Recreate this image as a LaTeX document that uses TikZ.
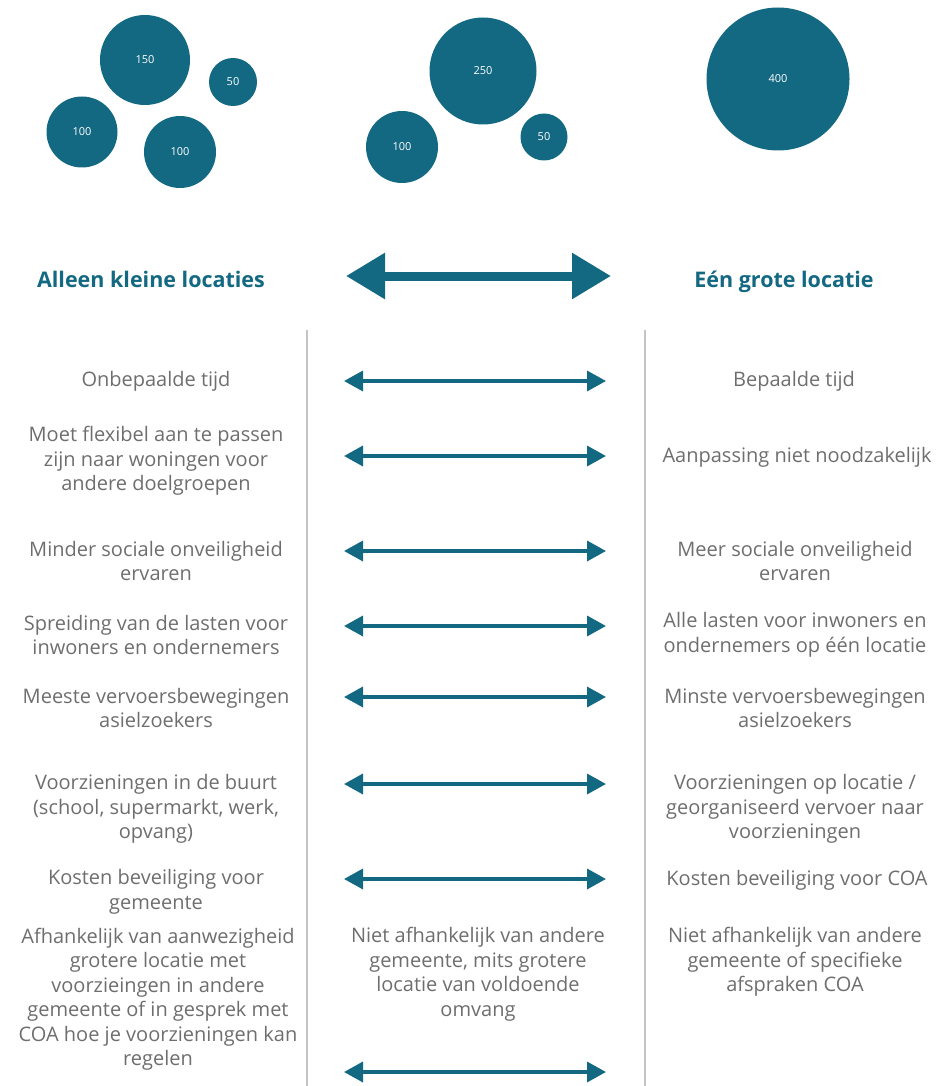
\documentclass[tikz,border=0pt]{standalone}
\usepackage{fontspec}
\setmainfont{Open Sans}
\usetikzlibrary{arrows.meta}
\definecolor{petrol}{RGB}{19,104,130}
\definecolor{tekstgrijs}{RGB}{110,110,110}
\definecolor{lijngrijs}{RGB}{196,196,196}

\begin{document}
\begin{tikzpicture}[x=1pt,y=-1pt,
		bubble/.style={circle, fill=petrol, text=white, inner sep=0pt, font=\fontsize{11}{13}\selectfont},
		kop/.style={anchor=base, text=petrol, font=\fontsize{21.5}{24}\selectfont\bfseries},
		punt/.style={text=tekstgrijs, align=center, font=\fontsize{20}{24.5}\selectfont},
		pijl/.style={petrol, line width=3.5pt, {Triangle[length=19pt,width=20pt]}-{Triangle[length=19pt,width=20pt]}},
		grootpijl/.style={petrol, line width=9pt, {Triangle[length=39pt,width=44pt]}-{Triangle[length=39pt,width=44pt]}}]
				\useasboundingbox (0,0) rectangle (942,1086);
				
				% bollen
				\node[bubble, minimum size=90pt] (k150) at (145,60) {150};
				\node[bubble, minimum size=48pt] (k50) at (233,82) {50};
				\node[bubble, minimum size=71pt] (k100a) at (82,132) {100};
				\node[bubble, minimum size=72pt] (k100b) at (180,152) {100};
				
				\node[bubble, minimum size=107pt] (m250) at (483,71) {250};
				\node[bubble, minimum size=72pt] (m100) at (402,147) {100};
				\node[bubble, minimum size=47pt] (m50) at (544,137) {50};
				
				\node[bubble, minimum size=143pt] (g400) at (778,79) {400};
				
				% koppen
				\node[kop] (kleine) at (151,287) {Alleen kleine locaties};
				\node[kop] (grote) at (784,287) {Eén grote locatie};
				\coordinate (gl) at (346,276);
				\coordinate (gr) at (611,276);
				\draw[grootpijl] (gl) -- (gr);
				
				% scheidingslijnen
				\coordinate (s1a) at (307,330);
				\coordinate (s1b) at (307,1086);
				\coordinate (s2a) at (645,330);
				\coordinate (s2b) at (645,1086);
				\draw[lijngrijs, line width=2pt] (s1a) -- (s1b);
				\draw[lijngrijs, line width=2pt] (s2a) -- (s2b);
				
				% pijlen
				\foreach \y [count=\i] in {381,456,551,626,697,784,879,1072} {
					\coordinate (pl\i) at (344,\y);
					\coordinate (pr\i) at (606,\y);
					\draw[pijl] (pl\i) -- (pr\i);
				}
				
				% links
				\node[punt] (l1) at (156,381) {Onbepaalde tijd};
				\node[punt] (l2) at (156,461) {Moet flexibel aan te passen\\zijn naar woningen voor\\andere doelgroepen};
				\node[punt] (l3) at (156,561) {Minder sociale onveiligheid\\ervaren};
				\node[punt] (l4) at (156,635) {Spreiding van de lasten voor\\inwoners en ondernemers};
				\node[punt] (l5) at (156,708) {Meeste vervoersbewegingen\\asielzoekers};
				\node[punt] (l6) at (156,809) {Voorzieningen in de buurt\\(school, supermarkt, werk,\\opvang)};
				\node[punt] (l7) at (156,892) {Kosten beveiliging voor\\gemeente};
				\node[punt] (l8) at (158,999) {Afhankelijk van aanwezigheid\\grotere locatie met\\voorzieingen in andere\\gemeente of in gesprek met\\COA hoe je voorzieningen kan\\regelen};
				
				% midden
				\node[punt] (m8) at (478,974) {Niet afhankelijk van andere\\gemeente, mits grotere\\locatie van voldoende\\omvang};
				
				% rechts
				\node[punt] (r1) at (794,381) {Bepaalde tijd};
				\node[punt] (r2) at (797,457) {Aanpassing niet noodzakelijk};
				\node[punt] (r3) at (795,561) {Meer sociale onveiligheid\\ervaren};
				\node[punt] (r4) at (795,635) {Alle lasten voor inwoners en\\ondernemers op één locatie};
				\node[punt] (r5) at (795,708) {Minste vervoersbewegingen\\asielzoekers};
				\node[punt] (r6) at (795,809) {Voorzieningen op locatie /\\georganiseerd vervoer naar\\voorzieningen};
				\node[punt] (r7) at (797,880) {Kosten beveiliging voor COA};
				\node[punt] (r8) at (795,962) {Niet afhankelijk van andere\\gemeente of specifieke\\afspraken COA};
			\end{tikzpicture}
\end{document}
